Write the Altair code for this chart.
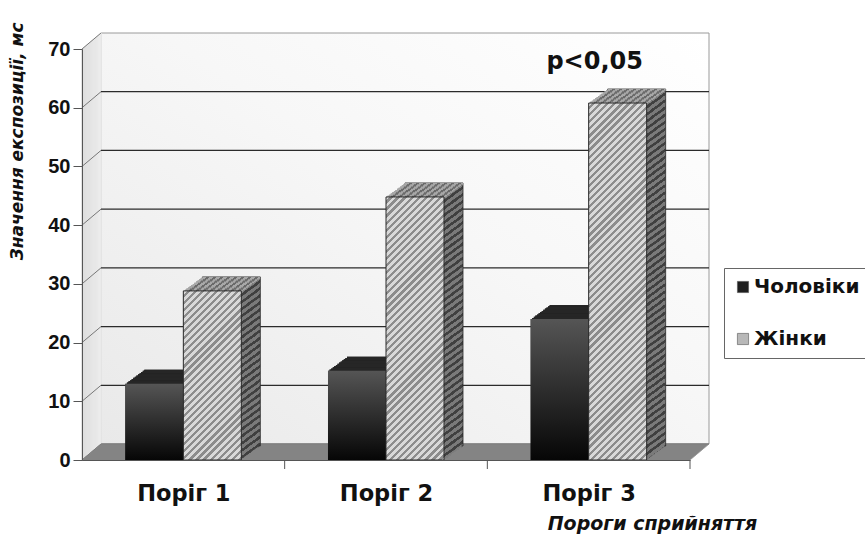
import json
import altair as alt
import pandas as pd

# ---- data -------------------------------------------------------------
CATEGORIES = ["Поріг 1", "Поріг 2", "Поріг 3"]
SERIES = ["Чоловіки", "Жінки"]
MEN = [13.0, 15.2, 24.0]
WOMEN = [28.8, 44.8, 60.8]
Y_TICKS = [0, 10, 20, 30, 40, 50, 60, 70]
NOTE_CATEGORY = "Поріг 3"
NOTE_VALUE = 67.8
NOTE_TEXT = "p<0,05"

# ---- geometry / style -------------------------------------------------
W, H = 608, 411            # plot area
Y_MAX = Y_TICKS[-1]
WALL_DX, WALL_DY = 19, 16  # depth of the back wall
BAR_DX, BAR_DY = 19, 14    # depth of each column
STEPS = 12
OUTER = 0.747              # outer gap of a column pair, in column widths
SLICE = 0.3                # thickness (in data units) of one top-face slice
FONT = "DejaVu Sans"

BW = 1 / (len(SERIES) + 2 * OUTER)   # column width in category units
BAR_W = W / len(CATEGORIES) * BW     # the same in pixels

bars = pd.DataFrame(
    [{"cat": c, "idx": i, "series": SERIES[0], "s": 0, "v": v} for i, (c, v) in enumerate(zip(CATEGORIES, MEN))]
    + [{"cat": c, "idx": i, "series": SERIES[1], "s": 1, "v": v} for i, (c, v) in enumerate(zip(CATEGORIES, WOMEN))]
)
frame = pd.DataFrame({"lo": [Y_TICKS[0]], "hi": [Y_TICKS[-1]]})
ticks = pd.DataFrame({"t": Y_TICKS})
cats = pd.DataFrame({"cat": CATEGORIES, "idx": list(range(len(CATEGORIES)))})
note = pd.DataFrame({"idx": [CATEGORIES.index(NOTE_CATEGORY)], "yv": [NOTE_VALUE], "label": [NOTE_TEXT]})

X_SCALE = alt.Scale(domain=[0, len(CATEGORIES)], nice=False, zero=False)
Y_SCALE = alt.Scale(domain=[0, Y_MAX], nice=False)

X_AXIS = alt.Axis(
    values=[i + 0.5 for i in range(len(CATEGORIES))],
    labelExpr=f"{json.dumps(CATEGORIES, ensure_ascii=False)}[floor(datum.value)]",
    ticks=False, grid=False, domainColor="#555555", labelAngle=0, labelFont=FONT,
    labelFontSize=22.5, labelFontWeight="bold", labelColor="#111111", labelPadding=22,
    titleFont=FONT, titleFontSize=19, titleFontWeight="bold", titleFontStyle="italic",
    titleColor="#111111", titleX=570, titleY=63, titleAlign="center",
    titleBaseline="middle", zindex=1,
)
Y_AXIS = alt.Axis(
    values=Y_TICKS, grid=False, domainColor="#555555", tickColor="#555555",
    tickSize=9, labelFont="Liberation Sans", labelFontSize=20, labelFontWeight="bold",
    labelColor="#111111", labelPadding=3,
    titleFont=FONT, titleFontSize=17, titleFontWeight="bold", titleFontStyle="italic",
    titleColor="#111111", titleAngle=270, titleAlign="right", titleBaseline="middle",
    titleX=-65, titleY=-27, zindex=1,
)
X_TITLE = "Пороги сприйняття"
Y_TITLE = "Значення експозиції, мс"


def X(field):
    return alt.X(f"{field}:Q", scale=X_SCALE, axis=X_AXIS, title=X_TITLE)


def Y(field):
    return alt.Y(f"{field}:Q", scale=Y_SCALE, axis=Y_AXIS, title=Y_TITLE)


def shift(k, dx, dy, steps):
    """Pixel offsets that push a whole mark k steps into depth."""
    ox, oy = k * dx / steps, -k * dy / steps
    return {"xOffset": ox, "x2Offset": ox, "yOffset": oy, "y2Offset": oy}


def stops_for(n, light, dark, light_share=0.55):
    out = []
    i = 0
    while i / n < 1:
        a, b, c = i / n, min((i + light_share) / n, 1), min((i + 1) / n, 1)
        out += [alt.GradientStop(offset=a, color=light), alt.GradientStop(offset=b, color=light),
                alt.GradientStop(offset=b, color=dark), alt.GradientStop(offset=c, color=dark)]
        i += 1
    return out


def diagonal_stripes(w, h, light, dark, period=5.0):
    """45-degree '/' hatching for a w x h pixel rectangle.

    Gradient coordinates live in the unit bounding box, so the direction
    (w, h) there maps to a 45-degree normal on screen."""
    n = (w + h) / 2 ** 0.5 / period
    s = (w + h) / (w * w + h * h)
    return alt.LinearGradient(
        gradient="linear", stops=stops_for(n, light, dark),
        x1=0, y1=0, x2=w * s, y2=h * s,
    )


def horizontal_stripes(w, light, dark, period=7.0):
    return alt.LinearGradient(
        gradient="linear", stops=stops_for(w / period, light, dark),
        x1=0, y1=0, x2=1, y2=0,
    )


columns = alt.Chart(bars).transform_calculate(
    x0=f"datum.idx + {OUTER * BW} + datum.s * {BW}",
    x1=f"datum.idx + {OUTER * BW} + (datum.s + 1) * {BW}",
    base="0",
    lo=f"datum.v - {SLICE}",
)
men = columns.transform_filter(f"datum.series == '{SERIES[0]}'")
women = columns.transform_filter(f"datum.series == '{SERIES[1]}'")


def col_enc(top="v", bottom="base"):
    return dict(x=X("x0"), x2="x1", y=Y(top), y2=bottom)


layers = []

# back wall
wall_fill = alt.LinearGradient(
    gradient="linear", x1=0, y1=1, x2=1, y2=0,
    stops=[alt.GradientStop(offset=0, color="#e9e9e9"),
           alt.GradientStop(offset=0.55, color="#f7f7f7"),
           alt.GradientStop(offset=1, color="#ffffff")],
)
layers.append(
    alt.Chart(frame).mark_rect(fill=wall_fill, stroke="#9a9a9a", strokeWidth=1,
                               **shift(1, WALL_DX, WALL_DY, 1))
    .encode(x=alt.value(0), x2=alt.value(W), y=Y("lo"), y2="hi")
)

# left side wall
for k in range(WALL_DX + 1):
    shade = int(0xdc + (0xec - 0xdc) * k / WALL_DX)
    layers.append(
        alt.Chart(frame).mark_rule(color=f"#{shade:02x}{shade:02x}{shade:02x}", strokeWidth=1.6,
                                   **shift(k, WALL_DX, WALL_DY, WALL_DX))
        .encode(x=alt.value(0), y=Y("lo"), y2="hi")
    )

# gridlines on the back wall
layers.append(
    alt.Chart(ticks).transform_filter(f"datum.t > {Y_TICKS[0]} && datum.t < {Y_MAX}")
    .mark_rule(color="#2b2b2b", strokeWidth=1.2, **shift(1, WALL_DX, WALL_DY, 1))
    .encode(x=alt.value(0), x2=alt.value(W), y=Y("t"))
)

# connectors from the axis ticks to the gridlines
layers.append(
    alt.Chart(ticks).transform_calculate(t2=f"datum.t + {WALL_DY * Y_MAX / H}")
    .mark_rule(color="#777777", strokeWidth=1)
    .encode(x=alt.value(0), x2=alt.value(WALL_DX), y=Y("t"), y2="t2")
)

# floor
for k in range(WALL_DY + 1):
    layers.append(
        alt.Chart(frame).mark_rule(color="#7d7d7d", strokeWidth=1.6,
                                   **shift(k, WALL_DX, WALL_DY, WALL_DY))
        .encode(x=alt.value(0), x2=alt.value(W), y=Y("lo"))
    )

# category separators under the floor
layers.append(
    alt.Chart(cats).transform_calculate(sep="datum.idx + 1")
    .mark_rule(color="#555555", strokeWidth=1)
    .encode(x=X("sep"), y=alt.value(H), y2=alt.value(H + 9))
)

# flat front faces that carry the legend
layers.append(
    columns.mark_bar().encode(
        **col_enc(),
        color=alt.Color(
            "series:N",
            scale=alt.Scale(domain=SERIES, range=["#1e1e1e", "#b8b8b8"]),
            legend=alt.Legend(
                title=None, orient="none", legendX=642, legendY=219,
                symbolType="square", symbolSize=125, symbolStrokeColor="#555555",
                symbolStrokeWidth=0.6, labelFont=FONT, labelFontSize=20,
                labelFontWeight="bold", labelColor="#111111", labelOffset=1,
                rowPadding=32, padding=9, strokeColor="#666666", fillColor="#ffffff",
            ),
        ),
    )
)

# men: side, top, front
for k in range(STEPS, 0, -1):
    layers.append(men.mark_bar(color="#0b0b0b", **shift(k, BAR_DX, BAR_DY, STEPS)).encode(**col_enc()))
for k in range(STEPS, 0, -1):
    layers.append(men.mark_bar(color="#262626", **shift(k, BAR_DX, BAR_DY, STEPS)).encode(**col_enc("v", "lo")))
men_front = alt.LinearGradient(
    gradient="linear", x1=0, y1=0, x2=0, y2=1,
    stops=[alt.GradientStop(offset=0, color="#555555"),
           alt.GradientStop(offset=1, color="#060606")],
)
layers.append(men.mark_bar(fill=men_front).encode(**col_enc()))

# women: side per column (hatching depends on height), shared top, then fronts
for cat, v in zip(CATEGORIES, WOMEN):
    h = v / Y_MAX * H
    one = women.transform_filter(f"datum.cat == '{cat}'")
    side = diagonal_stripes(BAR_W, h, "#7a7a7a", "#404040")
    for k in range(STEPS, 0, -1):
        extra = {"stroke": "#2a2a2a", "strokeWidth": 0.8} if k == STEPS else {}
        layers.append(one.mark_bar(fill=side, **shift(k, BAR_DX, BAR_DY, STEPS), **extra).encode(**col_enc()))
top_fill = horizontal_stripes(BAR_W, "#a8a8a8", "#6a6a6a")
for k in range(STEPS, 0, -1):
    layers.append(women.mark_bar(fill=top_fill, **shift(k, BAR_DX, BAR_DY, STEPS)).encode(**col_enc("v", "lo")))
for cat, v in zip(CATEGORIES, WOMEN):
    h = v / Y_MAX * H
    layers.append(
        women.transform_filter(f"datum.cat == '{cat}'")
        .mark_bar(fill=diagonal_stripes(BAR_W, h, "#d8d8d8", "#8c8c8c"), stroke="#2a2a2a", strokeWidth=1)
        .encode(**col_enc())
    )

# significance note
layers.append(
    alt.Chart(note).transform_calculate(xc="datum.idx + 0.5")
    .mark_text(font=FONT, fontSize=24, fontWeight="bold", color="#111111", dx=6, baseline="middle")
    .encode(x=X("xc"), y=Y("yv"), text="label:N")
)

chart = (
    alt.layer(*layers)
    .properties(
        width=W, height=H,
        autosize=alt.AutoSizeParams(type="none"),
        padding={"left": 82, "top": 49, "right": 175, "bottom": 75},
        background="#ffffff",
    )
    .configure_view(stroke=None)
)

chart.save("out.html", embed_options={"renderer": "svg", "actions": False})
